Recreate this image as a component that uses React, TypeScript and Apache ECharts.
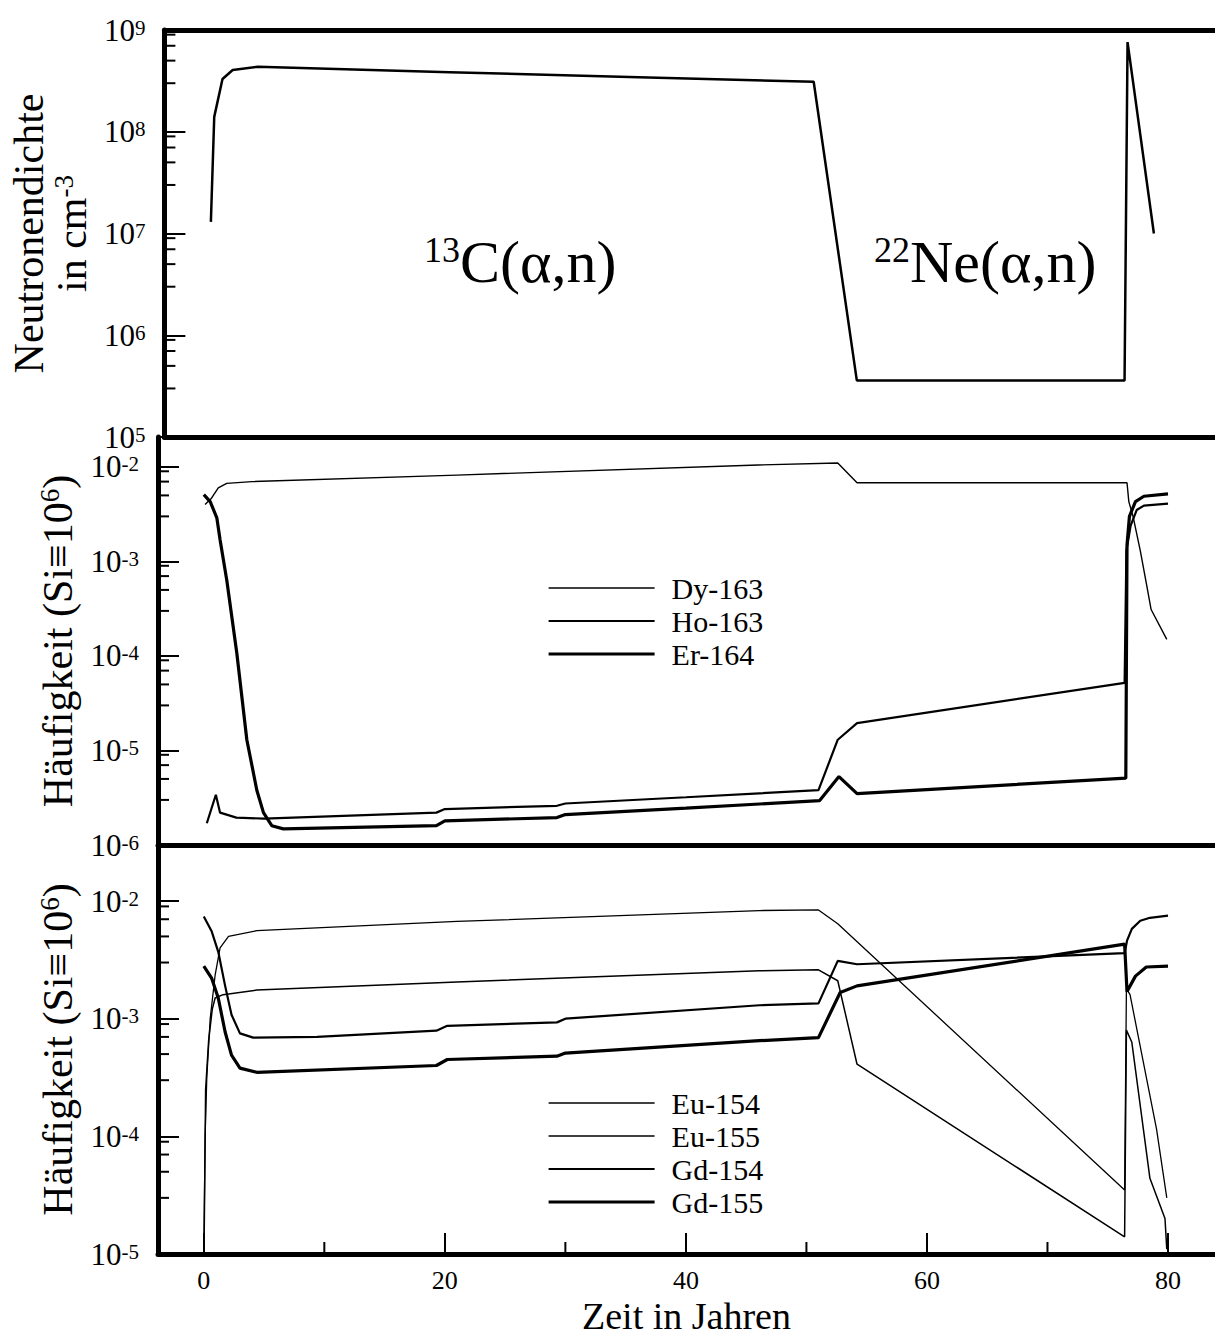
import React, { useEffect, useRef } from 'react';
import * as echarts from 'echarts';

const FONT = '"Liberation Serif", "Times New Roman", serif';

// ---------- axis ranges ----------
const X_MIN = -3.8;
const X_MAX = 83.9;
const X_MAJOR = [0, 20, 40, 60, 80];
const X_MINOR = [10, 30, 50, 70];

const TOP_RANGE = [1e5, 1e9];
const MID_RANGE = [1e-6, Math.pow(10, -1.683)];
const BOT_RANGE = [1e-5, Math.pow(10, -1.524)];
const MINOR_MULT = [3, 5, 7, 9];

// ---------- top panel: Neutronendichte ----------
const neutronX = [0.08, 0.36, 1.05, 1.9, 4.0, 20, 35, 50.4, 54.0, 76.35, 76.6, 78.8];
const neutronY = [1.3e7, 1.4e8, 3.3e8, 4.05e8, 4.35e8, 3.85e8, 3.45e8, 3.1e8, 3.6e5, 3.6e5, 7.6e8, 1.0e7];

// ---------- middle panel ----------
const dy163X = [0.1, 0.6, 1.2, 1.9, 4.0, 21, 46, 52.6, 54.2, 76.6, 76.75, 77.1, 77.7, 78.2, 78.6, 79.9];
const dy163Y = [4.0e-3, 4.6e-3, 6.0e-3, 6.7e-3, 7.0e-3, 8.2e-3, 1.05e-2, 1.1e-2, 6.8e-3, 6.8e-3, 4.3e-3, 3.0e-3, 1.3e-3, 5.9e-4, 3.1e-4, 1.5e-4];

const ho163X = [0.25, 1.0, 1.35, 2.7, 5.0, 19.3, 20.0, 29.3, 30.0, 40, 51.0, 52.6, 54.2, 76.4, 76.55, 76.9, 77.4, 78.0, 80.0];
const ho163Y = [1.7e-6, 3.4e-6, 2.2e-6, 1.95e-6, 1.9e-6, 2.2e-6, 2.4e-6, 2.6e-6, 2.75e-6, 3.2e-6, 3.8e-6, 1.3e-5, 1.95e-5, 5.2e-5, 1.3e-3, 2.4e-3, 3.5e-3, 3.9e-3, 4.1e-3];

const er164X = [0.0, 0.53, 1.08, 1.35, 1.91, 2.74, 3.57, 4.4, 4.95, 5.64, 6.6, 19.3, 20.0, 29.3, 30.0, 40, 51.1, 52.7, 54.2, 76.5, 76.6, 76.8, 77.3, 78.0, 80.0];
const er164Y = [5.1e-3, 4.3e-3, 2.9e-3, 1.7e-3, 6.3e-4, 1.07e-4, 1.3e-5, 3.8e-6, 2.2e-6, 1.6e-6, 1.48e-6, 1.6e-6, 1.8e-6, 1.95e-6, 2.1e-6, 2.45e-6, 2.95e-6, 5.3e-6, 3.5e-6, 5.1e-6, 1.5e-3, 3.0e-3, 4.3e-3, 4.9e-3, 5.2e-3];

// ---------- bottom panel ----------
const eu154X = [0.0, 0.11, 0.25, 0.53, 0.94, 1.35, 2.05, 4.4, 21, 46.1, 51.0, 52.6, 76.4, 76.55, 76.85, 79.05, 79.9];
const eu154Y = [1.0e-5, 1.0e-4, 3.2e-4, 1.0e-3, 2.35e-3, 4.0e-3, 5.0e-3, 5.6e-3, 6.7e-3, 8.3e-3, 8.4e-3, 6.4e-3, 3.5e-5, 1.8e-3, 1.6e-3, 1.15e-4, 3.0e-5];

const eu155X = [0.02, 0.15, 0.4, 0.7, 0.94, 1.6, 4.4, 21, 46.1, 51.0, 52.6, 54.2, 76.4, 76.55, 77.0, 78.5, 79.75, 79.9];
const eu155Y = [1.0e-5, 2.5e-4, 6.5e-4, 1.2e-3, 1.5e-3, 1.6e-3, 1.75e-3, 2.05e-3, 2.55e-3, 2.6e-3, 2.1e-3, 4.1e-4, 1.4e-5, 8.0e-4, 6.3e-4, 4.4e-5, 2.0e-5, 1.1e-5];

const gd154X = [0.0, 0.66, 1.2, 1.77, 2.3, 3.0, 4.1, 9.4, 19.3, 20.2, 29.3, 30.0, 46.1, 51.0, 52.6, 54.2, 76.4, 76.6, 77.0, 77.7, 78.5, 80.0];
const gd154Y = [7.4e-3, 5.5e-3, 3.7e-3, 1.9e-3, 1.08e-3, 7.5e-4, 6.9e-4, 7.0e-4, 7.9e-4, 8.7e-4, 9.3e-4, 1.0e-3, 1.3e-3, 1.35e-3, 3.1e-3, 2.9e-3, 3.6e-3, 4.6e-3, 5.8e-3, 6.8e-3, 7.2e-3, 7.5e-3];

const gd155X = [0.0, 0.66, 1.2, 1.77, 2.3, 3.0, 4.4, 19.3, 20.2, 29.3, 30.0, 46.1, 51.0, 52.8, 54.2, 76.4, 76.6, 77.3, 78.2, 80.0];
const gd155Y = [2.8e-3, 2.2e-3, 1.5e-3, 7.7e-4, 4.9e-4, 3.8e-4, 3.5e-4, 4.0e-4, 4.5e-4, 4.8e-4, 5.1e-4, 6.5e-4, 6.9e-4, 1.67e-3, 1.9e-3, 4.3e-3, 1.7e-3, 2.3e-3, 2.75e-3, 2.8e-3];

const MID_LEGEND = ['Dy-163', 'Ho-163', 'Er-164'];
const BOT_LEGEND = ['Eu-154', 'Eu-155', 'Gd-154', 'Gd-155'];

const WIDTHS: Record<string, number> = {
  'Dy-163': 1.4,
  'Ho-163': 2.2,
  'Er-164': 3.2,
  'Eu-154': 1.3,
  'Eu-155': 1.5,
  'Gd-154': 2.2,
  'Gd-155': 3.2,
};

// ---------- helpers ----------
const pairs = (xs: number[], ys: number[]) => xs.map((x, i) => [x, ys[i]]);

const minorValues = (range: number[]) => {
  const out: number[] = [];
  const lo = Math.floor(Math.log10(range[0]));
  const hi = Math.ceil(Math.log10(range[1]));
  for (let n = lo; n <= hi; n++) {
    for (const m of MINOR_MULT) {
      const v = m * Math.pow(10, n);
      if (v > range[0] && v < range[1]) out.push(v);
    }
  }
  return out;
};

const logLabel = (val: number) => {
  const l = Math.log10(val);
  const n = Math.round(l);
  if (Math.abs(l - n) > 0.02) return '';
  return `{a|10}{b|${n}}`;
};

const yLabelRich = {
  a: { fontSize: 31, fontFamily: FONT, color: '#000', lineHeight: 26 },
  b: { fontSize: 21, fontFamily: FONT, color: '#000', verticalAlign: 'top', lineHeight: 16 },
};

const frameLine = { show: true, onZero: false, lineStyle: { color: '#000', width: 5 } };

const makeY = (gridIndex: number, range: number[], name: string, nameGap: number) => ({
  gridIndex,
  type: 'log',
  logBase: 10,
  min: range[0],
  max: range[1],
  axisLine: frameLine,
  axisTick: { show: true, inside: true, length: 21, lineStyle: { color: '#000', width: 2 } },
  axisLabel: { formatter: logLabel, rich: yLabelRich, margin: 19, color: '#000' },
  splitLine: { show: false },
  minorTick: { show: false },
  name,
  nameLocation: 'middle',
  nameRotate: 90,
  nameGap,
  nameTextStyle: {
    color: '#000',
    rich: {
      t: { fontSize: 42, fontFamily: FONT, color: '#000', lineHeight: 43 },
      s: { fontSize: 27, fontFamily: FONT, color: '#000', verticalAlign: 'top', lineHeight: 27 },
    },
  },
});

const plainX = (gridIndex: number, position: string) => ({
  gridIndex,
  type: 'value',
  min: X_MIN,
  max: X_MAX,
  position,
  axisLine: frameLine,
  axisTick: { show: false },
  axisLabel: { show: false },
  splitLine: { show: false },
});

const yTickSeries = (xAxisIndex: number, yAxisIndex: number, range: number[]) => ({
  type: 'custom',
  name: 'ytick' + yAxisIndex,
  xAxisIndex,
  yAxisIndex,
  silent: true,
  clip: false,
  z: 5,
  data: minorValues(range).map((v) => [X_MIN, v]),
  renderItem: (_p: any, api: any) => {
    const p = api.coord([api.value(0), api.value(1)]);
    return {
      type: 'line',
      shape: { x1: p[0], y1: p[1], x2: p[0] + 11, y2: p[1] },
      style: { stroke: '#000', lineWidth: 2 },
    };
  },
});

const lineSeries = (name: string, xs: number[], ys: number[], width: number, xi: number, yi: number) => ({
  type: 'line',
  name,
  xAxisIndex: xi,
  yAxisIndex: yi,
  data: pairs(xs, ys),
  symbol: 'none',
  showSymbol: false,
  smooth: false,
  lineStyle: { color: '#000', width },
  itemStyle: { color: '#000' },
  emphasis: { disabled: true },
  z: 3,
});

const legendBase = {
  orient: 'vertical',
  left: 547,
  padding: 0,
  itemWidth: 106,
  itemHeight: 14,
  selectedMode: false,
  itemStyle: { opacity: 0 },
  textStyle: { fontFamily: FONT, fontSize: 30, color: '#000', lineHeight: 30, padding: [0, 0, 0, 12] },
};

const legendData = (names: string[]) =>
  names.map((n) => ({ name: n, lineStyle: { color: '#000', width: WIDTHS[n] }, itemStyle: { opacity: 0 } }));

export default function App() {
  const ref = useRef<HTMLDivElement>(null);
  useEffect(() => {
    const chart = echarts.init(ref.current!, null, { renderer: 'svg' });
    const option: any = {
      animation: false,
      backgroundColor: '#fff',
      textStyle: { fontFamily: FONT, color: '#000' },
      grid: [
        { left: 158, right: 0, top: 30, height: 407, containLabel: false },
        { left: 158, right: 0, top: 437, height: 408, containLabel: false },
        { left: 158, right: 0, top: 845, height: 410, containLabel: false },
      ],
      xAxis: [
        plainX(0, 'bottom'),
        plainX(0, 'top'),
        plainX(1, 'bottom'),
        {
          ...plainX(2, 'bottom'),
          axisTick: {
            show: true,
            inside: true,
            length: 21,
            customValues: X_MAJOR,
            lineStyle: { color: '#000', width: 2 },
          },
          axisLabel: {
            show: true,
            customValues: X_MAJOR,
            fontSize: 26,
            lineHeight: 24,
            fontFamily: FONT,
            color: '#000',
            margin: 14,
          },
          name: 'Zeit in Jahren',
          nameLocation: 'middle',
          nameGap: 45,
          nameTextStyle: { fontSize: 38, lineHeight: 34, fontFamily: FONT, color: '#000' },
        },
      ],
      yAxis: [
        makeY(0, TOP_RANGE, '{t|Neutronendichte}\n{t|in cm}{s|-3}', 66),
        makeY(1, MID_RANGE, '{t|Häufigkeit (Si≡10}{s|6}{t|)}', 79),
        makeY(2, BOT_RANGE, '{t|Häufigkeit (Si≡10}{s|6}{t|)}', 79),
      ],
      legend: [
        { ...legendBase, top: 573, itemGap: 3, data: legendData(MID_LEGEND) },
        { ...legendBase, top: 1088, itemGap: 3, data: legendData(BOT_LEGEND) },
      ],
      graphic: [
        {
          type: 'text',
          x: 424,
          y: 262,
          style: {
            text: '{s|13}{m|C(α,n)}',
            verticalAlign: 'middle',
            rich: {
              m: { fontSize: 60, fontFamily: FONT, fill: '#000', lineHeight: 60 },
              s: { fontSize: 36, fontFamily: FONT, fill: '#000', verticalAlign: 'top', lineHeight: 36 },
            },
          },
        },
        {
          type: 'text',
          x: 874,
          y: 262,
          style: {
            text: '{s|22}{m|Ne(α,n)}',
            verticalAlign: 'middle',
            rich: {
              m: { fontSize: 60, fontFamily: FONT, fill: '#000', lineHeight: 60 },
              s: { fontSize: 36, fontFamily: FONT, fill: '#000', verticalAlign: 'top', lineHeight: 36 },
            },
          },
        },
      ],
      series: [
        lineSeries('Neutronendichte', neutronX, neutronY, 2.5, 0, 0),
        lineSeries('Dy-163', dy163X, dy163Y, WIDTHS['Dy-163'], 2, 1),
        lineSeries('Ho-163', ho163X, ho163Y, WIDTHS['Ho-163'], 2, 1),
        lineSeries('Er-164', er164X, er164Y, WIDTHS['Er-164'], 2, 1),
        lineSeries('Eu-154', eu154X, eu154Y, WIDTHS['Eu-154'], 3, 2),
        lineSeries('Eu-155', eu155X, eu155Y, WIDTHS['Eu-155'], 3, 2),
        lineSeries('Gd-154', gd154X, gd154Y, WIDTHS['Gd-154'], 3, 2),
        lineSeries('Gd-155', gd155X, gd155Y, WIDTHS['Gd-155'], 3, 2),
        yTickSeries(0, 0, TOP_RANGE),
        yTickSeries(2, 1, MID_RANGE),
        yTickSeries(3, 2, BOT_RANGE),
        {
          type: 'custom',
          name: 'xminor',
          xAxisIndex: 3,
          yAxisIndex: 2,
          silent: true,
          clip: false,
          z: 5,
          data: X_MINOR.map((v) => [v, BOT_RANGE[0]]),
          renderItem: (_p: any, api: any) => {
            const p = api.coord([api.value(0), api.value(1)]);
            return {
              type: 'line',
              shape: { x1: p[0], y1: p[1], x2: p[0], y2: p[1] - 12 },
              style: { stroke: '#000', lineWidth: 2 },
            };
          },
        },
      ],
    };
    chart.setOption(option);
    return () => chart.dispose();
  }, []);
  return (
    <div
      ref={ref}
      style={{ position: 'absolute', left: 0, top: 0, width: 1215, height: 1336, background: '#fff' }}
    />
  );
}
